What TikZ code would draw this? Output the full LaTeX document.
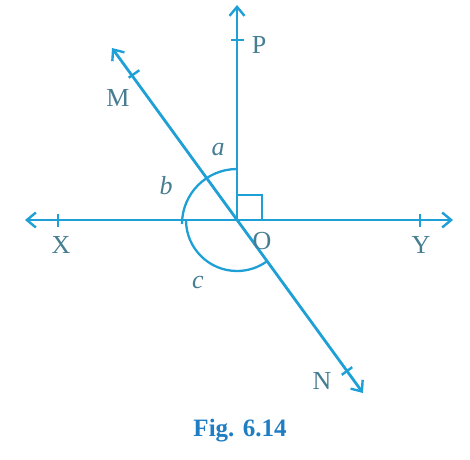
\documentclass[tikz,border=0pt]{standalone}
\usepackage{fontspec}
\setmainfont{Liberation Serif}
\usetikzlibrary{arrows.meta,calc}
\definecolor{linecol}{RGB}{30,160,215}
\definecolor{labcol}{RGB}{70,125,145}
\definecolor{capcol}{RGB}{30,125,195}
\tikzset{
  ray/.style={draw=linecol, line width=2.8pt, {Straight Barb[length=9pt,width=15pt,line width=2.4pt]}-{Straight Barb[length=9pt,width=15pt,line width=2.4pt]}},
  halfray/.style={draw=linecol, line width=2.8pt, -{Straight Barb[length=9pt,width=15pt,line width=2.4pt]}},
  tick/.style={draw=linecol, line width=2.4pt},
  angarc/.style={draw=linecol, line width=2.3pt},
  lab/.style={text=labcol, font=\fontsize{26}{28}\selectfont, inner sep=0pt}
}
\begin{document}
\begin{tikzpicture}[x=1pt, y=1pt]
  \useasboundingbox (0,0) rectangle (470,459);
  % points
  \coordinate (O) at (237,239);
  \coordinate (Xend) at (25,239);
  \coordinate (Yend) at (453,239);
  \coordinate (Pend) at (237,454);
  \coordinate (Mend) at (112,411);
  \coordinate (Nend) at (363,66);
  \coordinate (X) at (58,239);
  \coordinate (Y) at (420,239);
  \coordinate (P) at (237,419);
  \coordinate (M) at (134,385);
  \coordinate (N) at (347,88);

  % lines
  \draw[ray] (Xend) -- (Yend);
  \draw[ray] (Mend) -- (Nend);
  \draw[halfray] (O) -- (Pend);

  % ticks
  \draw[tick] ($(X)!6.5pt!90:(O)$) -- ($(X)!6.5pt!-90:(O)$);
  \draw[tick] ($(Y)!6.5pt!90:(O)$) -- ($(Y)!6.5pt!-90:(O)$);
  \draw[tick] ($(P)!6.5pt!90:(O)$) -- ($(P)!6.5pt!-90:(O)$);
  \draw[tick] ($(M)!6.5pt!90:(O)$) -- ($(M)!6.5pt!-90:(O)$);
  \draw[tick] ($(N)!6.5pt!90:(O)$) -- ($(N)!6.5pt!-90:(O)$);

  % angles
  \draw[angarc] ($(O)+(0,51)$) arc[start angle=90, end angle=180, radius=55];
  \draw[angarc] ($(O)+(-51,0)$) arc[start angle=180, end angle=306, radius=51];
  \draw[angarc] ($(O)+(0,25)$) -- ++(25,0) -- ++(0,-25);

  % labels
  \node[lab] (labP) at (259,414) {P};
  \node[lab] (labM) at (118,361) {M};
  \node[lab] (labN) at (322,78) {N};
  \node[lab] (labX) at (61,214) {X};
  \node[lab] (labY) at (421,214) {Y};
  \node[lab] (labO) at (262,218) {O};
  \node[lab] (laba) at (218,309) {\itshape a};
  \node[lab] (labb) at (166,273) {\itshape b};
  \node[lab] (labc) at (198,177) {\itshape c};
  \node[text=capcol, font=\fontsize{25}{28}\selectfont\bfseries, inner sep=0pt] (cap) at (240,28) {Fig.\,\,6.14};
\end{tikzpicture}
\end{document}
